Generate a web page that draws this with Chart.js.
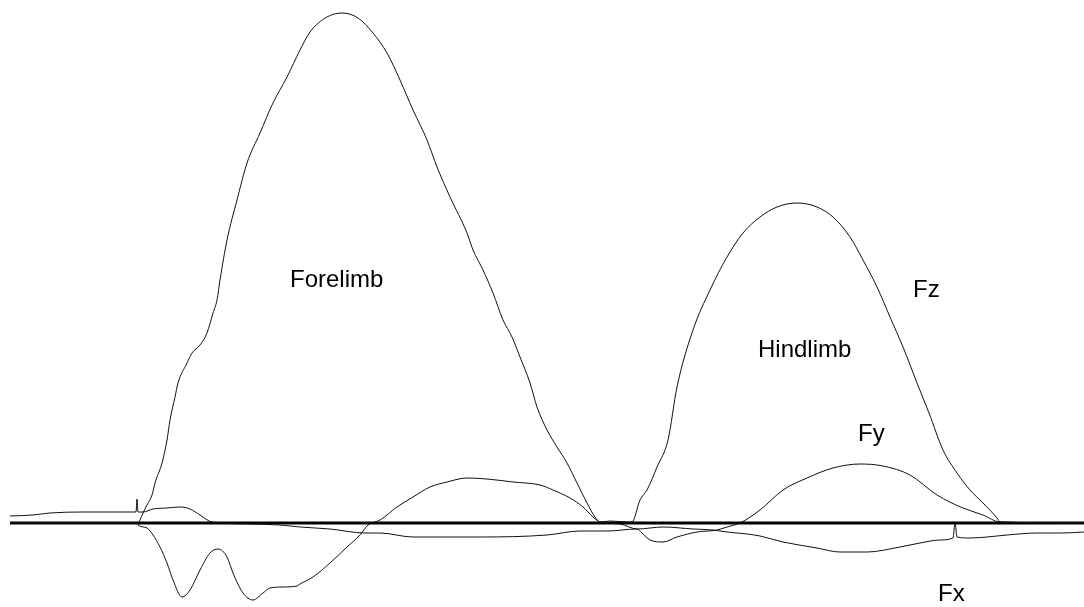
<!DOCTYPE html>
<html>
<head>
<meta charset="utf-8">
<script src="https://cdn.jsdelivr.net/npm/chart.js@4/dist/chart.umd.min.js"></script>
<style>
  body { margin: 0; background: #fff; }
  #chart { display: block; }
</style>
</head>
<body>
<canvas id="chart" width="1084" height="607"></canvas>
<script>
// time (ms) and force (arbitrary units)
let fzTime = [10, 137, 138, 140, 143, 147, 152, 155, 162, 167, 170, 175, 178, 187, 192, 200, 207, 213, 217, 220, 227, 237, 247, 260, 273, 287, 300, 310, 327, 342, 358, 373, 387, 400, 413, 427, 437, 450, 467, 473, 483, 493, 503, 512, 520, 530, 537, 547, 557, 567, 577, 587, 595, 600, 610, 628, 632, 640, 647, 657, 668, 677, 693, 710, 727, 743, 760, 777, 797, 817, 833, 850, 863, 877, 890, 903, 917, 929, 943, 957, 970, 983, 997, 1000, 1084]
let fzForce = [0, 0, 0, 3, 10, 18, 28, 40, 60, 83, 103, 126, 140, 160, 170, 178, 190, 210, 223, 243, 283, 323, 360, 390, 420, 446, 473, 491, 506, 510, 505, 490, 470, 443, 413, 383, 356, 326, 290, 273, 253, 230, 203, 186, 166, 140, 116, 93, 76, 60, 40, 20, 6, 1, 2, 1, 1, 23, 33, 56, 83, 136, 193, 233, 266, 290, 306, 316, 320, 316, 306, 286, 263, 236, 206, 176, 140, 110, 73, 50, 33, 20, 5, 1, 0]

let fxTime = [10, 137, 138, 147, 153, 160, 167, 173, 182, 190, 200, 210, 218, 227, 233, 243, 253, 263, 270, 283, 297, 300, 313, 330, 347, 360, 368, 380, 397, 413, 430, 447, 467, 487, 513, 540, 553, 570, 583, 593, 600, 620, 637, 663, 693, 713, 727, 747, 760, 783, 817, 840, 867, 900, 920, 940, 953, 955, 957, 970, 987, 1007, 1037, 1063, 1084]
let fxForce = [0, 0, -2, -5, -12, -24, -40, -57, -74, -67, -47, -30, -26, -34, -50, -70, -77, -70, -65, -64, -63, -61, -54, -40, -24, -12, -2, 3, 16, 26, 36, 41, 45, 44, 41, 38, 33, 25, 16, 6, 1, -1, -6, -4, -6, -7, -9, -11, -13, -19, -25, -29, -29, -24, -20, -17, -15, 0, -14, -15, -14, -12, -10, -10, -9]

let fyTime = [10, 33, 50, 83, 133, 136, 137, 138, 143, 153, 167, 180, 190, 200, 212, 250, 280, 300, 330, 365, 380, 413, 480, 547, 580, 607, 637, 642, 650, 663, 677, 697, 717, 727, 740, 760, 783, 807, 833, 860, 883, 910, 937, 963, 983, 1000, 1084]
let fyForce = [7, 8, 10, 11, 11, 11, 24, 11, 11, 14, 15, 16, 14, 8, 1, -1, -2, -4, -6, -10, -10, -14, -14, -12, -8, -8, -6, -10, -17, -19, -14, -9, -7, -4, 0, 13, 33, 45, 55, 59, 57, 48, 28, 15, 8, 1, 0]

let baseTime = [10, 1084]
let baseForce = [0, 0]

let labelText = ["Forelimb", "Hindlimb", "Fz", "Fy", "Fx"]
let labelTime = [290, 758, 913, 858, 938]
let labelForce = [236, 166, 226, 82, -78]

let pts = function(xs, ys) {
    return xs.map((x, i) => ({ x: x, y: ys[i] }))
}

let traceStyle = {
    borderColor: '#111',
    borderWidth: 1,
    pointRadius: 0,
    fill: false,
    cubicInterpolationMode: 'monotone'
}

let labelPlugin = {
    id: 'labels',
    afterDatasetsDraw(chart) {
        let ctx = chart.ctx
        let xs = chart.scales.x
        let ys = chart.scales.y
        ctx.save()
        ctx.fillStyle = '#000'
        ctx.font = '24px "Liberation Sans", Arial, sans-serif'
        ctx.textBaseline = 'alphabetic'
        ctx.textAlign = 'left'
        for (let i = 0; i < labelText.length; i++) {
            ctx.fillText(labelText[i], xs.getPixelForValue(labelTime[i]), ys.getPixelForValue(labelForce[i]))
        }
        ctx.restore()
    }
}

chart = new Chart(
    document.getElementById("chart"),
    {
        type: 'line',
        data: {
            datasets: [
                Object.assign({ label: 'Fz', data: pts(fzTime, fzForce) }, traceStyle),
                Object.assign({ label: 'Fx', data: pts(fxTime, fxForce) }, traceStyle),
                Object.assign({ label: 'Fy', data: pts(fyTime, fyForce) }, traceStyle),
                {
                    label: 'zero',
                    data: pts(baseTime, baseForce),
                    borderColor: '#000',
                    borderWidth: 3,
                    pointRadius: 0,
                    fill: false
                }
            ]
        },
        options: {
            responsive: false,
            animation: false,
            layout: { padding: 0 },
            scales: {
                x: { type: 'linear', min: 0, max: 1084, display: false },
                y: { type: 'linear', min: -84, max: 523, display: false }
            },
            plugins: {
                legend: { display: false },
                tooltip: { enabled: false }
            }
        },
        plugins: [labelPlugin]
    }
)
</script>
</body>
</html>
